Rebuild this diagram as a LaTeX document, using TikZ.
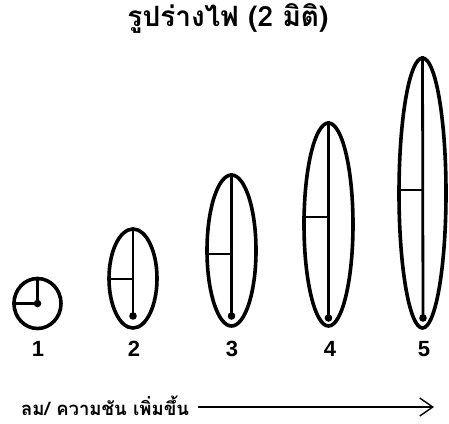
\documentclass[tikz,border=0pt]{standalone}
\usepackage{fontspec}
\setmainfont{Liberation Sans}
\newfontfamily\thaifont[Script=Thai]{Loma}
\usetikzlibrary{shapes.geometric, positioning, arrows.meta}

\begin{document}
\begin{tikzpicture}[x=1pt, y=-1pt,
    flame/.style={ellipse, draw, line width=3.6pt, inner sep=0pt},
    core/.style={line width=2.8pt},
    num/.style={font=\fontsize{22}{22}\selectfont\bfseries},
    thai/.style={font=\thaifont\bfseries\fontsize{18.5}{18.5}\selectfont, inner sep=0pt}]
    \useasboundingbox (0,0) rectangle (449,423);
    % flames, from small to tall
    \node[flame, minimum width=47pt, minimum height=50pt] (f1) at (37.5,303.5) {};
    \node[flame, minimum width=48pt, minimum height=99pt] (f2) at (133,278.5) {};
    \node[flame, minimum width=49pt, minimum height=151pt] (f3) at (231.5,250.5) {};
    \node[flame, minimum width=49pt, minimum height=203pt] (f4) at (328.5,224.5) {};
    \node[flame, minimum width=47pt, minimum height=270pt] (f5) at (422.5,193) {};
    % bottom dots and side marks
    \coordinate (d1) at (f1.center);
    \coordinate (d2) at (133,316);
    \coordinate (d3) at (231.5,316);
    \coordinate (d4) at (328.5,318);
    \coordinate (d5) at (423,318);
    \coordinate (h2) at (133,279);
    \coordinate (h3) at (231.5,254);
    \coordinate (h4) at (328.5,217);
    \coordinate (h5) at (423,190);
    \draw[core] (f1.north) -- (d1);
    \draw[core] (f1.west) -- (d1);
    \foreach \i in {2,...,5} {
        \draw[core] (f\i.north) -- (d\i);
        \draw[core] (h\i -| f\i.west) -- (h\i);
    }
    \foreach \i in {1,...,5}
        \fill (d\i) circle (3.8pt);
    % numbers
    \node[num] (n1) at (38,349) {1};
    \node[num] (n2) at (134,349) {2};
    \node[num] (n3) at (232,349) {3};
    \node[num] (n4) at (330,349) {4};
    \node[num] (n5) at (424,349) {5};
    % texts
    \node[thai, font=\thaifont\bfseries\fontsize{28}{28}\selectfont] (title) at (228,18) {รูปร่างไฟ (2 มิติ)};
    \node[thai, anchor=west] (trend) at (21,406) {ลม/ ความชัน เพิ่มขึ้น};
    \coordinate (tip) at (434,407);
    \draw[line width=1.3pt, -{Straight Barb[length=13pt, width=18pt, line width=1.4pt]}] ([xshift=9pt]trend.east |- tip) -- (tip);
\end{tikzpicture}
\end{document}
